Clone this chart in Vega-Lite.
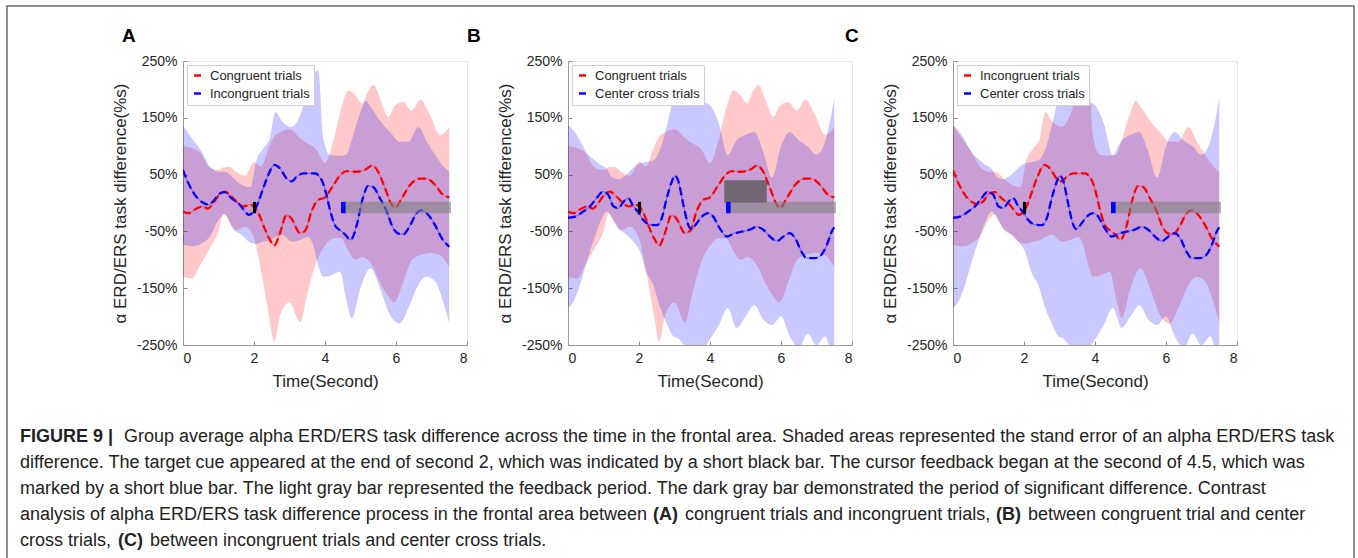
{
  "$schema": "https://vega.github.io/schema/vega-lite/v6.json",
  "padding": {"left": 6, "top": 5, "right": 0, "bottom": 0},
  "background": "white",
  "bounds": "flush",
  "spacing": 0,
  "datasets": {
    "means": [
      {"s":"Congruent trials","t":0,"v":-15},{"s":"Congruent trials","t":0.15,"v":-18},{"s":"Congruent trials","t":0.35,"v":-11},{"s":"Congruent trials","t":0.55,"v":-6},{"s":"Congruent trials","t":0.7,"v":-10},{"s":"Congruent trials","t":0.85,"v":0},{"s":"Congruent trials","t":1.05,"v":16},{"s":"Congruent trials","t":1.18,"v":20},{"s":"Congruent trials","t":1.37,"v":11},{"s":"Congruent trials","t":1.55,"v":0},{"s":"Congruent trials","t":1.7,"v":-6},{"s":"Congruent trials","t":1.9,"v":-3},{"s":"Congruent trials","t":2.0,"v":-6},{"s":"Congruent trials","t":2.15,"v":-21},{"s":"Congruent trials","t":2.3,"v":-45},{"s":"Congruent trials","t":2.45,"v":-65},{"s":"Congruent trials","t":2.57,"v":-75},{"s":"Congruent trials","t":2.73,"v":-53},{"s":"Congruent trials","t":2.92,"v":-21},{"s":"Congruent trials","t":3.05,"v":-27},{"s":"Congruent trials","t":3.3,"v":-53},{"s":"Congruent trials","t":3.45,"v":-48},{"s":"Congruent trials","t":3.62,"v":-15},{"s":"Congruent trials","t":3.8,"v":5},{"s":"Congruent trials","t":4.0,"v":10},{"s":"Congruent trials","t":4.24,"v":32},{"s":"Congruent trials","t":4.43,"v":49},{"s":"Congruent trials","t":4.62,"v":56},{"s":"Congruent trials","t":4.89,"v":55},{"s":"Congruent trials","t":5.17,"v":60},{"s":"Congruent trials","t":5.32,"v":66},{"s":"Congruent trials","t":5.5,"v":55},{"s":"Congruent trials","t":5.69,"v":26},{"s":"Congruent trials","t":5.88,"v":-3},{"s":"Congruent trials","t":5.97,"v":-9},{"s":"Congruent trials","t":6.16,"v":8},{"s":"Congruent trials","t":6.4,"v":32},{"s":"Congruent trials","t":6.68,"v":43},{"s":"Congruent trials","t":6.86,"v":43},{"s":"Congruent trials","t":7.1,"v":32},{"s":"Congruent trials","t":7.33,"v":14},{"s":"Congruent trials","t":7.5,"v":10},
      {"s":"Incongruent trials","t":0,"v":58},{"s":"Incongruent trials","t":0.15,"v":35},{"s":"Incongruent trials","t":0.34,"v":14},{"s":"Incongruent trials","t":0.53,"v":2},{"s":"Incongruent trials","t":0.71,"v":-3},{"s":"Incongruent trials","t":0.85,"v":3},{"s":"Incongruent trials","t":1.04,"v":17},{"s":"Incongruent trials","t":1.18,"v":19},{"s":"Incongruent trials","t":1.37,"v":8},{"s":"Incongruent trials","t":1.6,"v":-3},{"s":"Incongruent trials","t":1.75,"v":-15},{"s":"Incongruent trials","t":1.85,"v":-21},{"s":"Incongruent trials","t":2.0,"v":-14},{"s":"Incongruent trials","t":2.08,"v":-5},{"s":"Incongruent trials","t":2.26,"v":26},{"s":"Incongruent trials","t":2.4,"v":49},{"s":"Incongruent trials","t":2.57,"v":67},{"s":"Incongruent trials","t":2.73,"v":61},{"s":"Incongruent trials","t":2.92,"v":43},{"s":"Incongruent trials","t":3.06,"v":38},{"s":"Incongruent trials","t":3.2,"v":46},{"s":"Incongruent trials","t":3.39,"v":52},{"s":"Incongruent trials","t":3.58,"v":52},{"s":"Incongruent trials","t":3.72,"v":52},{"s":"Incongruent trials","t":3.86,"v":45},{"s":"Incongruent trials","t":3.95,"v":34},{"s":"Incongruent trials","t":4.05,"v":12},{"s":"Incongruent trials","t":4.14,"v":-12},{"s":"Incongruent trials","t":4.28,"v":-39},{"s":"Incongruent trials","t":4.42,"v":-48},{"s":"Incongruent trials","t":4.56,"v":-55},{"s":"Incongruent trials","t":4.72,"v":-65},{"s":"Incongruent trials","t":4.89,"v":-40},{"s":"Incongruent trials","t":5.05,"v":5},{"s":"Incongruent trials","t":5.22,"v":30},{"s":"Incongruent trials","t":5.36,"v":28},{"s":"Incongruent trials","t":5.55,"v":8},{"s":"Incongruent trials","t":5.74,"v":-15},{"s":"Incongruent trials","t":5.88,"v":-39},{"s":"Incongruent trials","t":6.07,"v":-54},{"s":"Incongruent trials","t":6.21,"v":-55},{"s":"Incongruent trials","t":6.4,"v":-39},{"s":"Incongruent trials","t":6.58,"v":-18},{"s":"Incongruent trials","t":6.72,"v":-13},{"s":"Incongruent trials","t":6.91,"v":-21},{"s":"Incongruent trials","t":7.1,"v":-39},{"s":"Incongruent trials","t":7.29,"v":-62},{"s":"Incongruent trials","t":7.5,"v":-77},
      {"s":"Center cross trials","t":0,"v":-26},{"s":"Center cross trials","t":0.2,"v":-24},{"s":"Center cross trials","t":0.43,"v":-15},{"s":"Center cross trials","t":0.62,"v":-6},{"s":"Center cross trials","t":0.8,"v":8},{"s":"Center cross trials","t":0.98,"v":20},{"s":"Center cross trials","t":1.14,"v":14},{"s":"Center cross trials","t":1.28,"v":-6},{"s":"Center cross trials","t":1.42,"v":-9},{"s":"Center cross trials","t":1.56,"v":2},{"s":"Center cross trials","t":1.7,"v":8},{"s":"Center cross trials","t":1.84,"v":-6},{"s":"Center cross trials","t":2.0,"v":-18},{"s":"Center cross trials","t":2.12,"v":-30},{"s":"Center cross trials","t":2.31,"v":-38},{"s":"Center cross trials","t":2.5,"v":-39},{"s":"Center cross trials","t":2.64,"v":-27},{"s":"Center cross trials","t":2.78,"v":8},{"s":"Center cross trials","t":2.92,"v":37},{"s":"Center cross trials","t":3.01,"v":48},{"s":"Center cross trials","t":3.1,"v":40},{"s":"Center cross trials","t":3.25,"v":-3},{"s":"Center cross trials","t":3.39,"v":-39},{"s":"Center cross trials","t":3.48,"v":-46},{"s":"Center cross trials","t":3.62,"v":-36},{"s":"Center cross trials","t":3.77,"v":-24},{"s":"Center cross trials","t":3.95,"v":-18},{"s":"Center cross trials","t":4.05,"v":-21},{"s":"Center cross trials","t":4.28,"v":-45},{"s":"Center cross trials","t":4.47,"v":-59},{"s":"Center cross trials","t":4.7,"v":-53},{"s":"Center cross trials","t":4.93,"v":-50},{"s":"Center cross trials","t":5.12,"v":-47},{"s":"Center cross trials","t":5.31,"v":-42},{"s":"Center cross trials","t":5.5,"v":-47},{"s":"Center cross trials","t":5.69,"v":-59},{"s":"Center cross trials","t":5.88,"v":-67},{"s":"Center cross trials","t":6.07,"v":-59},{"s":"Center cross trials","t":6.25,"v":-53},{"s":"Center cross trials","t":6.4,"v":-62},{"s":"Center cross trials","t":6.58,"v":-86},{"s":"Center cross trials","t":6.72,"v":-97},{"s":"Center cross trials","t":6.96,"v":-97},{"s":"Center cross trials","t":7.14,"v":-91},{"s":"Center cross trials","t":7.29,"v":-74},{"s":"Center cross trials","t":7.43,"v":-50},{"s":"Center cross trials","t":7.5,"v":-43}
    ],
    "bands": [
      {"s":"Congruent trials","t":0,"lo":-130,"hi":100},{"s":"Congruent trials","t":0.25,"lo":-133,"hi":97},{"s":"Congruent trials","t":0.5,"lo":-108,"hi":88},{"s":"Congruent trials","t":0.75,"lo":-80,"hi":62},{"s":"Congruent trials","t":1.0,"lo":-50,"hi":58},{"s":"Congruent trials","t":1.15,"lo":-18,"hi":63},{"s":"Congruent trials","t":1.3,"lo":-32,"hi":64},{"s":"Congruent trials","t":1.5,"lo":-48,"hi":55},{"s":"Congruent trials","t":1.75,"lo":-42,"hi":48},{"s":"Congruent trials","t":2.0,"lo":-62,"hi":72},{"s":"Congruent trials","t":2.2,"lo":-120,"hi":64},{"s":"Congruent trials","t":2.4,"lo":-190,"hi":95},{"s":"Congruent trials","t":2.57,"lo":-244,"hi":117},{"s":"Congruent trials","t":2.75,"lo":-195,"hi":125},{"s":"Congruent trials","t":3.0,"lo":-175,"hi":130},{"s":"Congruent trials","t":3.3,"lo":-210,"hi":114},{"s":"Congruent trials","t":3.5,"lo":-160,"hi":105},{"s":"Congruent trials","t":3.75,"lo":-105,"hi":95},{"s":"Congruent trials","t":4.0,"lo":-75,"hi":70},{"s":"Congruent trials","t":4.25,"lo":-62,"hi":113},{"s":"Congruent trials","t":4.45,"lo":-62,"hi":165},{"s":"Congruent trials","t":4.66,"lo":-85,"hi":198},{"s":"Congruent trials","t":4.85,"lo":-100,"hi":190},{"s":"Congruent trials","t":5.05,"lo":-95,"hi":175},{"s":"Congruent trials","t":5.2,"lo":-100,"hi":195},{"s":"Congruent trials","t":5.37,"lo":-115,"hi":208},{"s":"Congruent trials","t":5.55,"lo":-140,"hi":184},{"s":"Congruent trials","t":5.79,"lo":-165,"hi":152},{"s":"Congruent trials","t":5.95,"lo":-175,"hi":170},{"s":"Congruent trials","t":6.2,"lo":-140,"hi":178},{"s":"Congruent trials","t":6.45,"lo":-100,"hi":163},{"s":"Congruent trials","t":6.68,"lo":-92,"hi":182},{"s":"Congruent trials","t":6.96,"lo":-88,"hi":155},{"s":"Congruent trials","t":7.24,"lo":-92,"hi":120},{"s":"Congruent trials","t":7.5,"lo":-112,"hi":134},
      {"s":"Incongruent trials","t":0,"lo":-74,"hi":137},{"s":"Incongruent trials","t":0.25,"lo":-76,"hi":114},{"s":"Incongruent trials","t":0.5,"lo":-72,"hi":93},{"s":"Incongruent trials","t":0.75,"lo":-60,"hi":65},{"s":"Incongruent trials","t":1.0,"lo":-30,"hi":55},{"s":"Incongruent trials","t":1.18,"lo":-20,"hi":55},{"s":"Incongruent trials","t":1.4,"lo":-45,"hi":45},{"s":"Incongruent trials","t":1.65,"lo":-56,"hi":32},{"s":"Incongruent trials","t":1.9,"lo":-70,"hi":28},{"s":"Incongruent trials","t":2.07,"lo":-72,"hi":76},{"s":"Incongruent trials","t":2.26,"lo":-68,"hi":96},{"s":"Incongruent trials","t":2.45,"lo":-65,"hi":115},{"s":"Incongruent trials","t":2.6,"lo":-60,"hi":160},{"s":"Incongruent trials","t":2.8,"lo":-56,"hi":143},{"s":"Incongruent trials","t":3.06,"lo":-68,"hi":134},{"s":"Incongruent trials","t":3.3,"lo":-65,"hi":155},{"s":"Incongruent trials","t":3.53,"lo":-60,"hi":202},{"s":"Incongruent trials","t":3.67,"lo":-75,"hi":225},{"s":"Incongruent trials","t":3.81,"lo":-110,"hi":234},{"s":"Incongruent trials","t":3.95,"lo":-130,"hi":115},{"s":"Incongruent trials","t":4.14,"lo":-128,"hi":85},{"s":"Incongruent trials","t":4.42,"lo":-121,"hi":83},{"s":"Incongruent trials","t":4.6,"lo":-170,"hi":85},{"s":"Incongruent trials","t":4.75,"lo":-203,"hi":110},{"s":"Incongruent trials","t":5.0,"lo":-150,"hi":160},{"s":"Incongruent trials","t":5.15,"lo":-125,"hi":180},{"s":"Incongruent trials","t":5.28,"lo":-115,"hi":170},{"s":"Incongruent trials","t":5.55,"lo":-150,"hi":145},{"s":"Incongruent trials","t":5.83,"lo":-197,"hi":125},{"s":"Incongruent trials","t":6.11,"lo":-212,"hi":108},{"s":"Incongruent trials","t":6.35,"lo":-185,"hi":108},{"s":"Incongruent trials","t":6.63,"lo":-144,"hi":134},{"s":"Incongruent trials","t":6.87,"lo":-130,"hi":108},{"s":"Incongruent trials","t":7.1,"lo":-138,"hi":85},{"s":"Incongruent trials","t":7.33,"lo":-174,"hi":65},{"s":"Incongruent trials","t":7.5,"lo":-212,"hi":55},
      {"s":"Center cross trials","t":0,"lo":-185,"hi":137},{"s":"Center cross trials","t":0.15,"lo":-174,"hi":128},{"s":"Center cross trials","t":0.34,"lo":-144,"hi":110},{"s":"Center cross trials","t":0.53,"lo":-103,"hi":88},{"s":"Center cross trials","t":0.71,"lo":-68,"hi":78},{"s":"Center cross trials","t":0.9,"lo":-35,"hi":68},{"s":"Center cross trials","t":1.09,"lo":-15,"hi":60},{"s":"Center cross trials","t":1.25,"lo":-28,"hi":45},{"s":"Center cross trials","t":1.42,"lo":-45,"hi":42},{"s":"Center cross trials","t":1.65,"lo":-56,"hi":50},{"s":"Center cross trials","t":1.84,"lo":-68,"hi":62},{"s":"Center cross trials","t":2.03,"lo":-86,"hi":70},{"s":"Center cross trials","t":2.2,"lo":-121,"hi":72},{"s":"Center cross trials","t":2.4,"lo":-144,"hi":75},{"s":"Center cross trials","t":2.6,"lo":-185,"hi":95},{"s":"Center cross trials","t":2.8,"lo":-215,"hi":140},{"s":"Center cross trials","t":2.97,"lo":-235,"hi":184},{"s":"Center cross trials","t":3.1,"lo":-238,"hi":200},{"s":"Center cross trials","t":3.34,"lo":-255,"hi":190},{"s":"Center cross trials","t":3.53,"lo":-260,"hi":184},{"s":"Center cross trials","t":3.81,"lo":-255,"hi":178},{"s":"Center cross trials","t":4.0,"lo":-240,"hi":172},{"s":"Center cross trials","t":4.25,"lo":-215,"hi":140},{"s":"Center cross trials","t":4.5,"lo":-185,"hi":85},{"s":"Center cross trials","t":4.75,"lo":-220,"hi":110},{"s":"Center cross trials","t":5.0,"lo":-200,"hi":120},{"s":"Center cross trials","t":5.25,"lo":-180,"hi":125},{"s":"Center cross trials","t":5.5,"lo":-205,"hi":90},{"s":"Center cross trials","t":5.75,"lo":-215,"hi":45},{"s":"Center cross trials","t":6.0,"lo":-200,"hi":100},{"s":"Center cross trials","t":6.25,"lo":-235,"hi":125},{"s":"Center cross trials","t":6.5,"lo":-255,"hi":110},{"s":"Center cross trials","t":6.75,"lo":-230,"hi":100},{"s":"Center cross trials","t":7.0,"lo":-250,"hi":85},{"s":"Center cross trials","t":7.25,"lo":-235,"hi":110},{"s":"Center cross trials","t":7.4,"lo":-255,"hi":150},{"s":"Center cross trials","t":7.5,"lo":-255,"hi":185}
    ],
    "bars": [
      {"p":"A","k":"feedback","t0":4.55,"t1":7.55,"v0":-18,"v1":2},
      {"p":"A","k":"cue","t0":1.97,"t1":2.06,"v0":-18,"v1":2},
      {"p":"A","k":"cursor","t0":4.45,"t1":4.58,"v0":-18,"v1":2},
      {"p":"B","k":"feedback","t0":4.55,"t1":7.55,"v0":-18,"v1":2},
      {"p":"B","k":"significant","t0":4.4,"t1":5.6,"v0":1,"v1":40},
      {"p":"B","k":"cue","t0":1.97,"t1":2.06,"v0":-18,"v1":2},
      {"p":"B","k":"cursor","t0":4.45,"t1":4.58,"v0":-18,"v1":2},
      {"p":"C","k":"feedback","t0":4.55,"t1":7.55,"v0":-18,"v1":2},
      {"p":"C","k":"cue","t0":1.97,"t1":2.06,"v0":-18,"v1":2},
      {"p":"C","k":"cursor","t0":4.45,"t1":4.58,"v0":-18,"v1":2}
    ],
    "caption": [
      {"line":1,"seg":"start_bold","text":"FIGURE 9 |"},
      {"line":1,"seg":"l1rest","text":"Group average alpha ERD/ERS task difference across the time in the frontal area. Shaded areas represented the stand error of an alpha ERD/ERS task"},
      {"line":2,"seg":"start","text":"difference. The target cue appeared at the end of second 2, which was indicated by a short black bar. The cursor feedback began at the second of 4.5, which was"},
      {"line":3,"seg":"start","text":"marked by a short blue bar. The light gray bar represented the feedback period. The dark gray bar demonstrated the period of significant difference. Contrast"},
      {"line":4,"seg":"start","text":"analysis of alpha ERD/ERS task difference process in the frontal area between"},
      {"line":4,"seg":"A","text":"(A)"},
      {"line":4,"seg":"A_after","text":"congruent trials and incongruent trials,"},
      {"line":4,"seg":"B","text":"(B)"},
      {"line":4,"seg":"B_after","text":"between congruent trial and center"},
      {"line":5,"seg":"start","text":"cross trials,"},
      {"line":5,"seg":"C","text":"(C)"},
      {"line":5,"seg":"C_after","text":"between incongruent trials and center cross trials."}
    ]
  },
  "vconcat": [
    {
      "bounds": "flush",
      "spacing": 101,
      "resolve": {"scale": {"stroke": "independent", "fill": "independent"}, "legend": {"stroke": "independent"}},
      "hconcat": [
        {
          "width": 75, "height": 284,
          "view": {"stroke": null},
          "data": {"values": []},
          "mark": {"type": "point", "opacity": 0},
          "encoding": {}
        },
        {
          "width": 284, "height": 284,
          "title": {"text": "A", "anchor": "start", "frame": "group", "dx": -61, "offset": 8},
          "layer": [
            {"data": {"name": "bands"}, "transform": [{"filter": "datum.s === 'Congruent trials'"}],
             "mark": {"type": "area", "clip": true, "color": "#ff0000", "opacity": 0.21, "interpolate": "monotone"},
             "encoding": {
               "x": {"field": "t", "type": "quantitative", "title": "Time(Second)", "scale": {"domain": [0, 8], "nice": false}, "axis": {"values": [0, 2, 4, 6, 8], "title": "Time(Second)"}},
               "y": {"field": "lo", "type": "quantitative", "title": "α ERD/ERS task difference(%s)", "scale": {"domain": [-250, 250], "nice": false}, "axis": {"values": [-250, -150, -50, 50, 150, 250], "labelExpr": "datum.value + '%'", "title": "α ERD/ERS task difference(%s)"}},
               "y2": {"field": "hi"}}},
            {"data": {"name": "bands"}, "transform": [{"filter": "datum.s === 'Incongruent trials'"}],
             "mark": {"type": "area", "clip": true, "color": "#0000ff", "opacity": 0.21, "interpolate": "monotone"},
             "encoding": {"x": {"field": "t", "type": "quantitative", "title": "Time(Second)"}, "y": {"field": "lo", "type": "quantitative", "title": "α ERD/ERS task difference(%s)"}, "y2": {"field": "hi"}}},
            {"data": {"name": "means"}, "transform": [{"filter": "datum.s === 'Congruent trials' || datum.s === 'Incongruent trials'"}],
             "mark": {"type": "line", "clip": true, "strokeWidth": 2.3, "strokeDash": [8, 4], "interpolate": "monotone"},
             "encoding": {"x": {"field": "t", "type": "quantitative", "title": "Time(Second)"}, "y": {"field": "v", "type": "quantitative", "title": "α ERD/ERS task difference(%s)"},
               "stroke": {"field": "s", "type": "nominal", "scale": {"domain": ["Congruent trials", "Incongruent trials"], "range": ["#ff0000", "#0000ff"]}, "legend": {"orient": "top-left", "title": null}}}},
            {"data": {"name": "means"}, "transform": [{"filter": "datum.s === 'Congruent trials' || datum.s === 'Incongruent trials'"}],
             "mark": {"type": "line", "clip": true, "strokeWidth": 1, "strokeOpacity": 0.45, "interpolate": "monotone"},
             "encoding": {"x": {"field": "t", "type": "quantitative", "title": "Time(Second)"}, "y": {"field": "v", "type": "quantitative", "title": "α ERD/ERS task difference(%s)"},
               "stroke": {"field": "s", "type": "nominal", "scale": {"domain": ["Congruent trials", "Incongruent trials"], "range": ["#ff0000", "#0000ff"]}, "legend": {"orient": "top-left", "title": null}}}},
            {"data": {"name": "bars"}, "transform": [{"filter": "datum.p === 'A'"}],
             "mark": {"type": "rect"},
             "encoding": {"x": {"field": "t0", "type": "quantitative", "title": "Time(Second)"}, "x2": {"field": "t1"}, "y": {"field": "v0", "type": "quantitative", "title": "α ERD/ERS task difference(%s)"}, "y2": {"field": "v1"},
               "fill": {"field": "k", "type": "nominal", "scale": {"domain": ["feedback", "significant", "cue", "cursor"], "range": ["rgba(128,128,128,0.6)", "rgba(80,80,80,0.72)", "#000000", "#0000ff"]}, "legend": null}}}
          ]
        },
        {
          "width": 284, "height": 284,
          "title": {"text": "B", "anchor": "start", "frame": "group", "dx": -101, "offset": 8},
          "layer": [
            {"data": {"name": "bands"}, "transform": [{"filter": "datum.s === 'Congruent trials'"}],
             "mark": {"type": "area", "clip": true, "color": "#ff0000", "opacity": 0.21, "interpolate": "monotone"},
             "encoding": {
               "x": {"field": "t", "type": "quantitative", "title": "Time(Second)", "scale": {"domain": [0, 8], "nice": false}, "axis": {"values": [0, 2, 4, 6, 8], "title": "Time(Second)"}},
               "y": {"field": "lo", "type": "quantitative", "title": "α ERD/ERS task difference(%s)", "scale": {"domain": [-250, 250], "nice": false}, "axis": {"values": [-250, -150, -50, 50, 150, 250], "labelExpr": "datum.value + '%'", "title": "α ERD/ERS task difference(%s)"}},
               "y2": {"field": "hi"}}},
            {"data": {"name": "bands"}, "transform": [{"filter": "datum.s === 'Center cross trials'"}],
             "mark": {"type": "area", "clip": true, "color": "#0000ff", "opacity": 0.21, "interpolate": "monotone"},
             "encoding": {"x": {"field": "t", "type": "quantitative", "title": "Time(Second)"}, "y": {"field": "lo", "type": "quantitative", "title": "α ERD/ERS task difference(%s)"}, "y2": {"field": "hi"}}},
            {"data": {"name": "means"}, "transform": [{"filter": "datum.s === 'Congruent trials' || datum.s === 'Center cross trials'"}],
             "mark": {"type": "line", "clip": true, "strokeWidth": 2.3, "strokeDash": [8, 4], "interpolate": "monotone"},
             "encoding": {"x": {"field": "t", "type": "quantitative", "title": "Time(Second)"}, "y": {"field": "v", "type": "quantitative", "title": "α ERD/ERS task difference(%s)"},
               "stroke": {"field": "s", "type": "nominal", "scale": {"domain": ["Congruent trials", "Center cross trials"], "range": ["#ff0000", "#0000ff"]}, "legend": {"orient": "top-left", "title": null}}}},
            {"data": {"name": "means"}, "transform": [{"filter": "datum.s === 'Congruent trials' || datum.s === 'Center cross trials'"}],
             "mark": {"type": "line", "clip": true, "strokeWidth": 1, "strokeOpacity": 0.45, "interpolate": "monotone"},
             "encoding": {"x": {"field": "t", "type": "quantitative", "title": "Time(Second)"}, "y": {"field": "v", "type": "quantitative", "title": "α ERD/ERS task difference(%s)"},
               "stroke": {"field": "s", "type": "nominal", "scale": {"domain": ["Congruent trials", "Center cross trials"], "range": ["#ff0000", "#0000ff"]}, "legend": {"orient": "top-left", "title": null}}}},
            {"data": {"name": "bars"}, "transform": [{"filter": "datum.p === 'B'"}],
             "mark": {"type": "rect"},
             "encoding": {"x": {"field": "t0", "type": "quantitative", "title": "Time(Second)"}, "x2": {"field": "t1"}, "y": {"field": "v0", "type": "quantitative", "title": "α ERD/ERS task difference(%s)"}, "y2": {"field": "v1"},
               "fill": {"field": "k", "type": "nominal", "scale": {"domain": ["feedback", "significant", "cue", "cursor"], "range": ["rgba(128,128,128,0.6)", "rgba(80,80,80,0.72)", "#000000", "#0000ff"]}, "legend": null}}}
          ]
        },
        {
          "width": 284, "height": 284,
          "title": {"text": "C", "anchor": "start", "frame": "group", "dx": -108, "offset": 8},
          "layer": [
            {"data": {"name": "bands"}, "transform": [{"filter": "datum.s === 'Incongruent trials'"}],
             "mark": {"type": "area", "clip": true, "color": "#ff0000", "opacity": 0.21, "interpolate": "monotone"},
             "encoding": {
               "x": {"field": "t", "type": "quantitative", "title": "Time(Second)", "scale": {"domain": [0, 8], "nice": false}, "axis": {"values": [0, 2, 4, 6, 8], "title": "Time(Second)"}},
               "y": {"field": "lo", "type": "quantitative", "title": "α ERD/ERS task difference(%s)", "scale": {"domain": [-250, 250], "nice": false}, "axis": {"values": [-250, -150, -50, 50, 150, 250], "labelExpr": "datum.value + '%'", "title": "α ERD/ERS task difference(%s)"}},
               "y2": {"field": "hi"}}},
            {"data": {"name": "bands"}, "transform": [{"filter": "datum.s === 'Center cross trials'"}],
             "mark": {"type": "area", "clip": true, "color": "#0000ff", "opacity": 0.21, "interpolate": "monotone"},
             "encoding": {"x": {"field": "t", "type": "quantitative", "title": "Time(Second)"}, "y": {"field": "lo", "type": "quantitative", "title": "α ERD/ERS task difference(%s)"}, "y2": {"field": "hi"}}},
            {"data": {"name": "means"}, "transform": [{"filter": "datum.s === 'Incongruent trials' || datum.s === 'Center cross trials'"}],
             "mark": {"type": "line", "clip": true, "strokeWidth": 2.3, "strokeDash": [8, 4], "interpolate": "monotone"},
             "encoding": {"x": {"field": "t", "type": "quantitative", "title": "Time(Second)"}, "y": {"field": "v", "type": "quantitative", "title": "α ERD/ERS task difference(%s)"},
               "stroke": {"field": "s", "type": "nominal", "scale": {"domain": ["Incongruent trials", "Center cross trials"], "range": ["#ff0000", "#0000ff"]}, "legend": {"orient": "top-left", "title": null}}}},
            {"data": {"name": "means"}, "transform": [{"filter": "datum.s === 'Incongruent trials' || datum.s === 'Center cross trials'"}],
             "mark": {"type": "line", "clip": true, "strokeWidth": 1, "strokeOpacity": 0.45, "interpolate": "monotone"},
             "encoding": {"x": {"field": "t", "type": "quantitative", "title": "Time(Second)"}, "y": {"field": "v", "type": "quantitative", "title": "α ERD/ERS task difference(%s)"},
               "stroke": {"field": "s", "type": "nominal", "scale": {"domain": ["Incongruent trials", "Center cross trials"], "range": ["#ff0000", "#0000ff"]}, "legend": {"orient": "top-left", "title": null}}}},
            {"data": {"name": "bars"}, "transform": [{"filter": "datum.p === 'C'"}],
             "mark": {"type": "rect"},
             "encoding": {"x": {"field": "t0", "type": "quantitative", "title": "Time(Second)"}, "x2": {"field": "t1"}, "y": {"field": "v0", "type": "quantitative", "title": "α ERD/ERS task difference(%s)"}, "y2": {"field": "v1"},
               "fill": {"field": "k", "type": "nominal", "scale": {"domain": ["feedback", "significant", "cue", "cursor"], "range": ["rgba(128,128,128,0.6)", "rgba(80,80,80,0.72)", "#000000", "#0000ff"]}, "legend": null}}}
          ]
        }
      ]
    },
    {
      "width": 1347, "height": 497,
      "view": {"stroke": null},
      "layer": [
        {"data": {"values": [{"frame": "outer"}]},
         "mark": {"type": "rect", "fill": null, "fillOpacity": 0, "stroke": "#6a6a6a", "strokeWidth": 1.5, "clip": false},
         "encoding": {
           "x": {"datum": 0, "type": "quantitative", "scale": {"domain": [0, 1], "nice": false, "zero": false}, "axis": null},
           "x2": {"datum": 1},
           "y": {"datum": 5.8, "type": "quantitative", "scale": {"domain": [-13.4615, 5.654], "reverse": true, "nice": false, "zero": false}, "axis": null},
           "y2": {"datum": -15.577}}},
        {"data": {"name": "caption"}, "transform": [{"filter": "datum.seg === 'start_bold'"}], "mark": {"type": "text", "align": "left", "baseline": "middle", "dx": 13, "fontSize": 18, "fontWeight": "bold", "color": "#222222"},
         "encoding": {"x": {"datum": 0, "type": "quantitative"}, "y": {"field": "line", "type": "quantitative"}, "text": {"field": "text"}}},
        {"data": {"name": "caption"}, "transform": [{"filter": "datum.seg === 'start'"}], "mark": {"type": "text", "align": "left", "baseline": "middle", "dx": 13, "fontSize": 18, "color": "#222222"},
         "encoding": {"x": {"datum": 0, "type": "quantitative"}, "y": {"field": "line", "type": "quantitative"}, "text": {"field": "text"}}},
        {"data": {"name": "caption"}, "transform": [{"filter": "datum.seg === 'l1rest'"}], "mark": {"type": "text", "align": "left", "baseline": "middle", "dx": 117, "fontSize": 18, "color": "#222222"},
         "encoding": {"x": {"datum": 0, "type": "quantitative"}, "y": {"field": "line", "type": "quantitative"}, "text": {"field": "text"}}},
        {"data": {"name": "caption"}, "transform": [{"filter": "datum.seg === 'A'"}], "mark": {"type": "text", "align": "left", "baseline": "middle", "dx": 646, "fontSize": 18, "fontWeight": "bold", "color": "#222222"},
         "encoding": {"x": {"datum": 0, "type": "quantitative"}, "y": {"field": "line", "type": "quantitative"}, "text": {"field": "text"}}},
        {"data": {"name": "caption"}, "transform": [{"filter": "datum.seg === 'A_after'"}], "mark": {"type": "text", "align": "left", "baseline": "middle", "dx": 678, "fontSize": 18, "color": "#222222"},
         "encoding": {"x": {"datum": 0, "type": "quantitative"}, "y": {"field": "line", "type": "quantitative"}, "text": {"field": "text"}}},
        {"data": {"name": "caption"}, "transform": [{"filter": "datum.seg === 'B'"}], "mark": {"type": "text", "align": "left", "baseline": "middle", "dx": 989, "fontSize": 18, "fontWeight": "bold", "color": "#222222"},
         "encoding": {"x": {"datum": 0, "type": "quantitative"}, "y": {"field": "line", "type": "quantitative"}, "text": {"field": "text"}}},
        {"data": {"name": "caption"}, "transform": [{"filter": "datum.seg === 'B_after'"}], "mark": {"type": "text", "align": "left", "baseline": "middle", "dx": 1021, "fontSize": 18, "color": "#222222"},
         "encoding": {"x": {"datum": 0, "type": "quantitative"}, "y": {"field": "line", "type": "quantitative"}, "text": {"field": "text"}}},
        {"data": {"name": "caption"}, "transform": [{"filter": "datum.seg === 'C'"}], "mark": {"type": "text", "align": "left", "baseline": "middle", "dx": 111, "fontSize": 18, "fontWeight": "bold", "color": "#222222"},
         "encoding": {"x": {"datum": 0, "type": "quantitative"}, "y": {"field": "line", "type": "quantitative"}, "text": {"field": "text"}}},
        {"data": {"name": "caption"}, "transform": [{"filter": "datum.seg === 'C_after'"}], "mark": {"type": "text", "align": "left", "baseline": "middle", "dx": 143, "fontSize": 18, "color": "#222222"},
         "encoding": {"x": {"datum": 0, "type": "quantitative"}, "y": {"field": "line", "type": "quantitative"}, "text": {"field": "text"}}}
      ]
    }
  ],
  "config": {
    "font": "Liberation Sans",
    "view": {"stroke": "#e6e6e6", "strokeWidth": 1},
    "axis": {"labelFont": "Liberation Sans", "labelFontSize": 14, "labelColor": "#262626", "titleFont": "Liberation Sans", "titleFontSize": 17, "titleFontWeight": "normal", "titleColor": "#262626", "domainColor": "#9a9a9a", "tickColor": "#8a8a8a", "ticks": true, "tickSize": -4, "grid": false, "labelPadding": 10},
    "axisX": {"titlePadding": 8},
    "axisY": {"titlePadding": 7},
    "title": {"font": "Liberation Sans", "fontSize": 19, "fontWeight": "bold", "color": "#000000"},
    "legend": {"labelFont": "Liberation Sans", "labelFontSize": 13, "labelColor": "#262626", "offset": 4, "padding": 4, "rowPadding": 4, "strokeColor": "#cfcfcf", "fillColor": "white", "symbolType": "stroke", "symbolStrokeWidth": 2.5, "symbolSize": 50, "symbolOpacity": 1, "labelOffset": 6},
    "text": {"font": "Liberation Sans"}
  }
}
